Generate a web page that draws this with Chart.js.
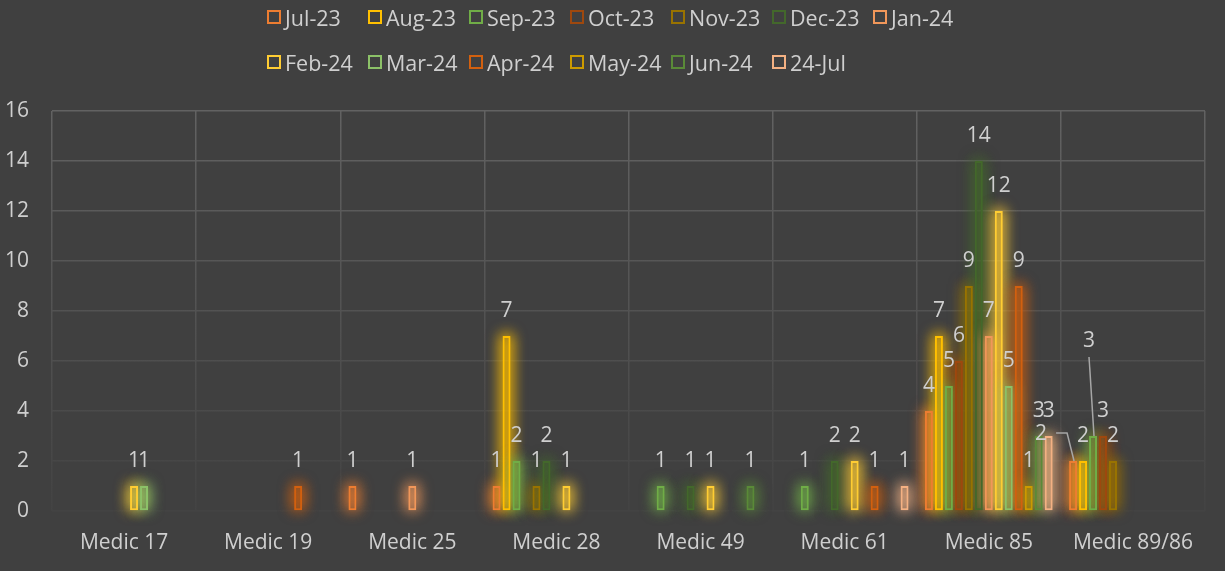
<!DOCTYPE html>
<html>
<head>
<meta charset="utf-8">
<script src="https://cdn.jsdelivr.net/npm/chart.js@4.4.1/dist/chart.umd.min.js"></script>
<style>
  html, body { margin: 0; padding: 0; background: #404040; }
  #wrap { position: relative; width: 1225px; height: 571px; background: #404040; }
  #legend {
    position: absolute; left: 267px; top: 0;
    display: grid; grid-template-columns: repeat(7, 101px); grid-auto-rows: 45px;
    font-family: "Open Sans", sans-serif; font-size: 21.5px; color: #cfcfcf;
  }
  #legend .item { display: flex; align-items: center; height: 34px; white-space: nowrap; }
  #legend .box { width: 10px; height: 10px; border: 2px solid; margin-right: 4px; }
</style>
</head>
<body>
<div id="wrap">
  <canvas id="chart" width="1225" height="571"></canvas>
  <div id="legend"></div>
</div>
<script>
// categories + one array per month (null = no bar / no label)
const categories = ["Medic 17", "Medic 19", "Medic 25", "Medic 28", "Medic 49", "Medic 61", "Medic 85", "Medic 89/86"];
const seriesNames = ["Jul-23", "Aug-23", "Sep-23", "Oct-23", "Nov-23", "Dec-23", "Jan-24", "Feb-24", "Mar-24", "Apr-24", "May-24", "Jun-24", "24-Jul"];

const jul23 = [null, null, 1, 1, null, null, 4, 2];
const aug23 = [null, null, null, 7, null, null, 7, 2];
const sep23 = [null, null, null, 2, 1, 1, 5, 3];
const oct23 = [null, null, null, null, null, null, 6, 3];
const nov23 = [null, null, null, 1, null, null, 9, 2];
const dec23 = [null, null, null, 2, 1, 2, 14, null];
const jan24 = [null, null, 1, null, null, null, 7, null];
const feb24 = [1, null, null, 1, 1, 2, 12, null];
const mar24 = [1, null, null, null, null, null, 5, null];
const apr24 = [null, 1, null, null, null, 1, 9, null];
const may24 = [null, null, null, null, null, null, 1, null];
const jun24 = [null, null, null, null, 1, null, 3, null];
const jul24 = [null, null, null, null, null, 1, 3, null];

const seriesValues = [jul23, aug23, sep23, oct23, nov23, dec23, jan24, feb24, mar24, apr24, may24, jun24, jul24];
const seriesColors = ["#ED7D31", "#FFC000", "#70AD47", "#9E480E", "#997300", "#43682B",
                      "#F1975A", "#FFCD33", "#8CC168", "#D2600F", "#CC9A00", "#5A8A38", "#F4B183"];

const yTicks = { min: 0, max: 16, step: 2 };

// labels Excel pushed aside to avoid overlap (series index, category index, shift)
const labelMoves = [
  { ds: 0, idx: 7, dx: -32, dy: -2 },
  { ds: 2, idx: 7, dx: -4, dy: -70 }
];

const textColor = "#cfcfcf";
const font = { family: "'Open Sans', sans-serif", size: 21 };

function rgba(hex, a) {
  const n = parseInt(hex.slice(1), 16);
  return `rgba(${n >> 16},${(n >> 8) & 255},${n & 255},${a})`;
}

// html legend, fixed columns like the original
const legendEl = document.getElementById("legend");
seriesNames.forEach((name, i) => {
  const it = document.createElement("div");
  it.className = "item";
  it.innerHTML = `<span class="box" style="border-color:${seriesColors[i]}"></span><span>${name}</span>`;
  legendEl.appendChild(it);
});

// fading grid: brighter at the top, nearly gone at the bottom
function gridColor(ctx) {
  const chart = ctx.chart;
  const a = chart.chartArea;
  if (!a) return "#555";
  const g = chart.ctx.createLinearGradient(0, a.top, 0, a.bottom);
  g.addColorStop(0, "#626262");
  g.addColorStop(1, "#434343");
  return g;
}

// soft glow: shadow-only rects (shape drawn off canvas, shadow shifted back under the bar)
const glowPlugin = {
  id: "glow",
  beforeDatasetsDraw(chart) {
    const c = chart.ctx;
    const off = 5000;
    chart.data.datasets.forEach((ds, di) => {
      const meta = chart.getDatasetMeta(di);
      c.save();
      c.shadowColor = rgba(seriesColors[di], 0.6);
      c.shadowBlur = 14;
      c.shadowOffsetX = off;
      c.fillStyle = "#000";
      meta.data.forEach((bar, i) => {
        if (ds.data[i] == null) return;
        const w = bar.width;
        for (let k = 0; k < 2; k++) c.fillRect(bar.x - w / 2 - 2 - off, bar.y - 2, w + 4, bar.base - bar.y + 2);
      });
      c.restore();
    });
  }
};

const valueLabels = {
  id: "valueLabels",
  afterDatasetsDraw(chart) {
    const c = chart.ctx;
    c.save();
    c.font = `${font.size}px ${font.family}`;
    c.fillStyle = textColor;
    c.textAlign = "center";
    c.textBaseline = "middle";
    chart.data.datasets.forEach((ds, di) => {
      const meta = chart.getDatasetMeta(di);
      meta.data.forEach((bar, i) => {
        const v = ds.data[i];
        if (v == null) return;
        let x = bar.x, y = bar.y - 25;
        const mv = labelMoves.find(m => m.ds === di && m.idx === i);
        if (mv) {
          x += mv.dx; y += mv.dy;
          c.strokeStyle = "#a6a6a6";
          c.lineWidth = 1.5;
          c.beginPath();
          if (Math.abs(mv.dx) > Math.abs(mv.dy)) {
            c.moveTo(x + 15, y - 1);
            c.lineTo(x + 26, y - 1);
            c.lineTo(bar.x + 1, bar.y);
          } else {
            c.moveTo(x, y + 16);
            c.lineTo(bar.x + 1, bar.y);
          }
          c.stroke();
        }
        c.fillText(String(v), x, y);
      });
    });
    c.restore();
  }
};

new Chart(document.getElementById("chart"), {
  type: "bar",
  data: {
    labels: categories,
    datasets: seriesNames.map((name, i) => ({
      label: name,
      data: seriesValues[i],
      borderColor: seriesColors[i],
      backgroundColor: rgba(seriesColors[i], 0.28),
      borderWidth: 2,
      borderSkipped: false,
      categoryPercentage: 0.9,
      barPercentage: 0.8
    }))
  },
  options: {
    responsive: false,
    animation: false,
    layout: { padding: { top: 111, right: 20, left: 0, bottom: 0 } },
    plugins: {
      legend: { display: false },
      tooltip: { enabled: false }
    },
    scales: {
      x: {
        grid: { color: gridColor, lineWidth: 1.5, drawTicks: false },
        border: { display: false },
        ticks: { color: textColor, font, padding: 19 },
        afterFit: s => { s.height = 60; }
      },
      y: {
        min: yTicks.min,
        max: yTicks.max,
        grid: { color: gridColor, lineWidth: 1.5, drawTicks: false },
        border: { display: false },
        ticks: { stepSize: yTicks.step, color: textColor, font, padding: 23 },
        afterFit: s => { s.width = 52; }
      }
    }
  },
  plugins: [glowPlugin, valueLabels]
});
</script>
</body>
</html>
